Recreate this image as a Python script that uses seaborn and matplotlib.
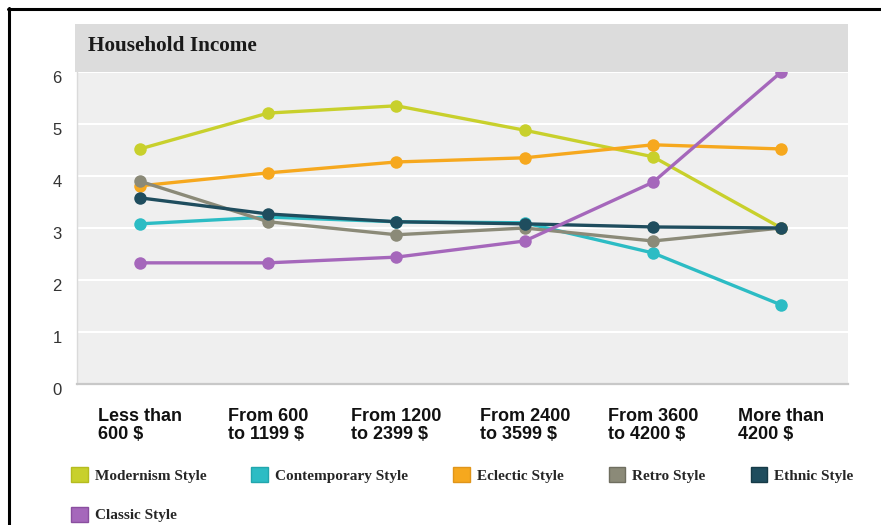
import numpy as np
import pandas as pd
import matplotlib
matplotlib.use("Agg")
import matplotlib.pyplot as plt
import matplotlib.transforms as mtransforms
from matplotlib.patches import Rectangle, Patch
from matplotlib.lines import Line2D
import seaborn as sns

# ---- data -------------------------------------------------------------
categories = ["Less than\n600 $", "From 600\nto 1199 $", "From 1200\nto 2399 $",
              "From 2400\nto 3599 $", "From 3600\nto 4200 $", "More than\n4200 $"]
styles = ["Modernism Style", "Contemporary Style", "Eclectic Style",
          "Retro Style", "Ethnic Style", "Classic Style"]

modernism = [4.52, 5.21, 5.35, 4.88, 4.37, 3.0]
contemporary = [3.08, 3.21, 3.12, 3.10, 2.52, 1.52]
eclectic = [3.81, 4.06, 4.27, 4.35, 4.60, 4.52]
retro = [3.90, 3.12, 2.87, 3.0, 2.75, 3.0]
ethnic = [3.58, 3.27, 3.12, 3.08, 3.02, 3.0]
classic = [2.33, 2.33, 2.44, 2.75, 3.88, 6.0]

colors = ["#c8d02c", "#2cbcc4", "#f6a81e", "#8b8a78", "#1f4d5e", "#a567bb"]
edge_colors = ["#b5bc20", "#22a6ad", "#e0951a", "#6f6e60", "#163a47", "#8a4f9f"]
yticks = [0, 1, 2, 3, 4, 5, 6]

series = [modernism, contemporary, eclectic, retro, ethnic, classic]
df = pd.DataFrame({
    "pos": np.tile(np.arange(len(categories)), len(styles)),
    "value": np.concatenate(series),
    "style": np.repeat(styles, len(categories)),
})

# ---- figure -----------------------------------------------------------
sns.set_style("white")
W, H = 881, 525
fig = plt.figure(figsize=(W / 100, H / 100), dpi=100)
fig.patch.set_facecolor("white")

left, right, top, bottom = 77, 848, 72, 384
ax = fig.add_axes([left / W, 1 - bottom / H, (right - left) / W, (bottom - top) / H])
ax.set_facecolor("#efefef")

sns.lineplot(data=df, x="pos", y="value", hue="style", hue_order=styles,
             palette=dict(zip(styles, colors)), marker="o", markersize=9,
             markeredgewidth=0, linewidth=2.4, sort=False, legend=False, ax=ax)

ax.set_ylim(0, 6)
ax.set_xlim(-0.49, 5.52)
ax.set_xlabel("")
ax.set_ylabel("")

ax.set_yticks(yticks)
ax.set_yticklabels([str(t) for t in yticks], fontsize=12, color="#333333",
                   family=["Liberation Sans", "DejaVu Sans"])
ax.set_xticks(range(len(categories)))
ax.set_xticklabels(categories, fontsize=13, fontweight="bold", color="#111111",
                   family=["Liberation Sans", "DejaVu Sans"],
                   multialignment="left", linespacing=1.12)
ax.tick_params(axis="both", length=0)
ax.tick_params(axis="y", pad=11)
ax.tick_params(axis="x", pad=17)

# y labels sit slightly below their gridlines
offset = mtransforms.ScaledTranslation(0, -5 / 100, fig.dpi_scale_trans)
for lbl in ax.get_yticklabels():
    lbl.set_transform(lbl.get_transform() + offset)

ax.yaxis.grid(True, color="white", linewidth=1.5)
ax.xaxis.grid(False)
ax.set_axisbelow(True)
for side in ["top", "right"]:
    ax.spines[side].set_visible(False)
ax.spines["left"].set_color("#dadada")
ax.spines["left"].set_linewidth(1.0)
ax.spines["bottom"].set_color("#c8c8c8")
ax.spines["bottom"].set_linewidth(1.6)

# title band
fig.add_artist(Rectangle((75 / W, 1 - 72 / H), (848 - 75) / W, 48 / H,
                         transform=fig.transFigure, facecolor="#dcdcdc",
                         edgecolor="none", zorder=5))
fig.text(88 / W, 1 - 46 / H, "Household Income", fontsize=15.3, fontweight="bold",
         family=["Liberation Serif", "DejaVu Serif"], color="#1a1a1a",
         va="center", ha="left", zorder=6)

# outer frame
fig.add_artist(Line2D([8 / W, 1], [1 - 9 / H, 1 - 9 / H], transform=fig.transFigure,
                      color="black", linewidth=2.2))
fig.add_artist(Line2D([9 / W, 9 / W], [0, 1 - 8 / H], transform=fig.transFigure,
                      color="black", linewidth=2.2))

# legend: five columns filled row by row
handles = [Patch(facecolor=c, edgecolor=e, linewidth=1.0, label=s)
           for s, c, e in zip(styles, colors, edge_colors)]
order = [0, 5, 1, 2, 3, 4]
handles = [handles[i] for i in order]
leg = fig.legend(handles=handles, loc="upper left", ncol=5,
                 bbox_to_anchor=(71 / W, 1 - 467 / H), frameon=False,
                 prop={"family": ["Liberation Serif", "DejaVu Serif"],
                       "weight": "bold", "size": 11},
                 handlelength=1.1, handleheight=1.1, handletextpad=0.45,
                 columnspacing=2.95, labelspacing=1.6, borderpad=0,
                 borderaxespad=0)

fig.savefig("out.png", dpi=100)
